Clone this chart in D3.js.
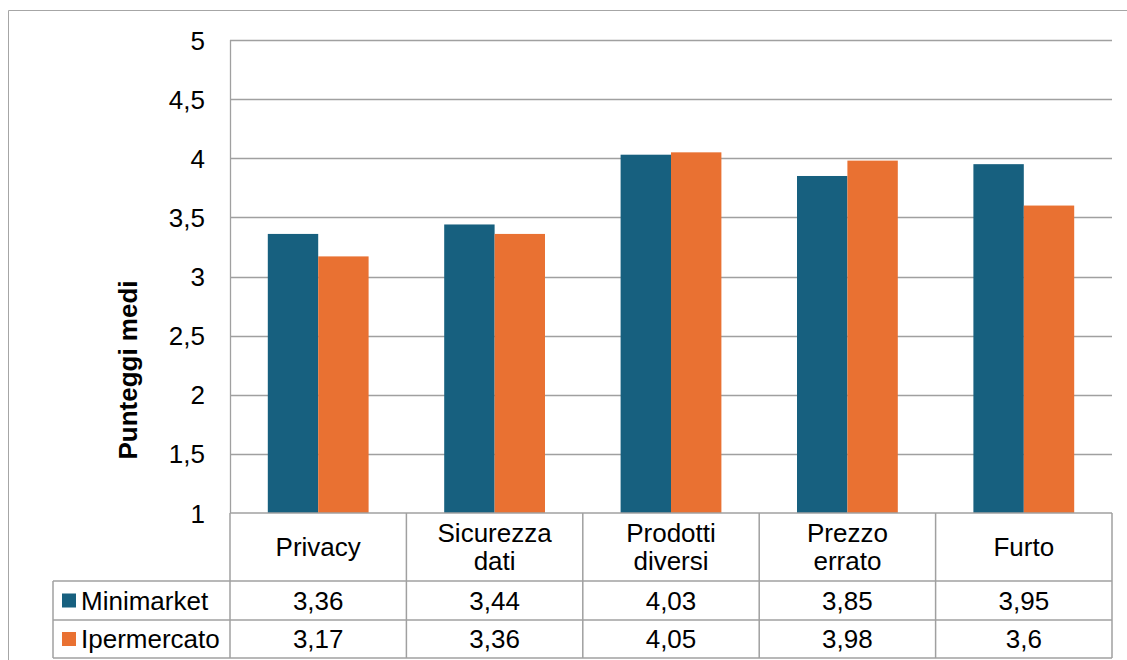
<!DOCTYPE html>
<html><head><meta charset="utf-8">
<script src="https://cdn.jsdelivr.net/npm/d3@7"></script>
<style>body{margin:0;background:#fff}svg{display:block}text{font-family:"Liberation Sans",Arial,sans-serif;fill:#000}</style>
</head><body>
<script>
const categories = [["Privacy"],["Sicurezza","dati"],["Prodotti","diversi"],["Prezzo","errato"],["Furto"]];
const seriesNames = ["Minimarket","Ipermercato"];
const minimarket = [3.36,3.44,4.03,3.85,3.95];
const ipermercato = [3.17,3.36,4.05,3.98,3.6];
const tickValues = [1,1.5,2,2.5,3,3.5,4,4.5,5];
const colors = ["#17607f","#e97132"];

const W=1127,H=660;
const svg=d3.select("body").append("svg").attr("width",W).attr("height",H);
const L=230,R=1112,T=40,B=513;
const FS="26px";
const fmt=v=>String(v).replace(".",",");
// outer frame
svg.append("path").attr("d",`M8.5,${H}V10.5H${W}`).attr("fill","none").attr("stroke","#a6a6a6").attr("stroke-width",1);

const x=d3.scaleBand().domain(d3.range(categories.length)).range([L,R]);
const bw = x.bandwidth()/(2+1.5);
const y=d3.scaleLinear().domain([1,5]).range([B,T]);

const g=svg.append("g");
// gridlines
g.selectAll("line.grid").data(tickValues.filter(v=>v>1)).join("line")
 .attr("x1",L).attr("x2",R).attr("y1",d=>Math.round(y(d))+0.5).attr("y2",d=>Math.round(y(d))+0.5)
 .attr("stroke","#a0a0a0").attr("stroke-width",1.3);
// y axis labels
const yAxis=d3.axisLeft(y).tickValues(tickValues).tickFormat(fmt).tickSize(0).tickPadding(0);
const ya=svg.append("g").attr("transform",`translate(205,0)`).call(yAxis);
ya.select(".domain").remove();
ya.selectAll("text").style("font-size",FS).attr("dy","0.35em");

// bars
const series=[minimarket,ipermercato];
series.forEach((s,si)=>{
  g.selectAll("rect.s"+si).data(s).join("rect")
   .attr("x",(d,i)=>x(i)+bw*0.75+si*bw).attr("width",bw)
   .attr("y",d=>y(d)).attr("height",d=>y(1)-y(d)).attr("fill",colors[si]);
});
// y axis line
svg.append("line").attr("x1",L+0.5).attr("x2",L+0.5).attr("y1",T).attr("y2",B).attr("stroke","#a0a0a0").attr("stroke-width",1.3);

// data table
const rowY=[513,581,620,658];
const tl=53;
const lines=svg.append("g").attr("stroke","#a0a0a0").attr("stroke-width",1.5).attr("fill","none");
lines.append("line").attr("x1",L).attr("x2",R).attr("y1",rowY[0]).attr("y2",rowY[0]);
lines.append("line").attr("x1",tl).attr("x2",R).attr("y1",rowY[1]).attr("y2",rowY[1]);
lines.append("line").attr("x1",tl).attr("x2",R).attr("y1",rowY[2]).attr("y2",rowY[2]);
lines.append("line").attr("x1",tl).attr("x2",R).attr("y1",rowY[3]).attr("y2",rowY[3]);
lines.append("line").attr("x1",tl).attr("x2",tl).attr("y1",rowY[1]).attr("y2",rowY[3]);
d3.range(categories.length+1).forEach(i=>{
  const xx= i<categories.length? x(i): R;
  lines.append("line").attr("x1",xx).attr("x2",xx).attr("y1",rowY[0]).attr("y2",rowY[3]);
});
// category labels
categories.forEach((c,i)=>{
  const cx=x(i)+x.bandwidth()/2, cy=(rowY[0]+rowY[1])/2;
  const t=svg.append("text").attr("text-anchor","middle").style("font-size",FS);
  c.forEach((ln,k)=>t.append("tspan").attr("x",cx).attr("y",cy+(k-(c.length-1)/2)*28).attr("dy","0.36em").text(ln));
});
// series rows
series.forEach((s,si)=>{
  const cy=(rowY[si+1]+rowY[si+2])/2;
  svg.append("rect").attr("x",62).attr("y",cy-7).attr("width",14).attr("height",14).attr("fill",colors[si]);
  svg.append("text").attr("x",81).attr("y",cy).attr("dy","0.36em").style("font-size",FS).text(seriesNames[si]);
  s.forEach((v,i)=>{
    svg.append("text").attr("x",x(i)+x.bandwidth()/2).attr("y",cy).attr("dy","0.36em").attr("text-anchor","middle").style("font-size",FS).text(fmt(v));
  });
});
// y title
svg.append("text").attr("transform","translate(137,370) rotate(-90)").attr("text-anchor","middle")
 .style("font-size","26px").style("font-weight","bold").text("Punteggi medi");
</script>
</body></html>
